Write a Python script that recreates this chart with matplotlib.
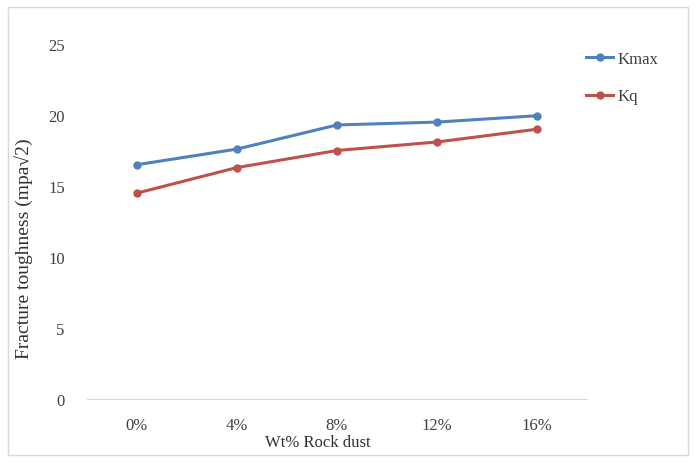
import matplotlib
matplotlib.use("Agg")
import matplotlib.pyplot as plt
from matplotlib.patches import Rectangle

categories = ["0%", "4%", "8%", "12%", "16%"]
kmax = [16.5, 17.6, 19.3, 19.5, 19.95]
kq = [14.5, 16.3, 17.5, 18.1, 19.0]
yticks = [0, 5, 10, 15, 20, 25]

plt.rcParams['font.family'] = ['Liberation Serif', 'DejaVu Serif']

fig = plt.figure(figsize=(6.96, 4.64), dpi=100)
W, H = 696, 464
ax = fig.add_axes([87 / W, 1 - 400 / H, 500 / W, 355 / H])

blue = "#4F81BD"
red = "#C0504D"
x = range(len(categories))
ax.plot(x, kmax, color=blue, lw=2.2, marker="o", ms=5, label="Kmax")
ax.plot(x, kq, color=red, lw=2.2, marker="o", ms=5, label="Kq")

ax.set_xlim(-0.5, len(categories) - 0.5)
ax.set_ylim(0, 25)
ax.set_yticks(yticks)
ax.set_xticks(list(x))
ax.set_xticklabels(categories)
for s in ["top", "right", "left"]:
    ax.spines[s].set_visible(False)
ax.spines["bottom"].set_color("#d9d9d9")
ax.tick_params(axis="both", length=0, labelsize=12, colors="#404040")
ax.tick_params(axis="x", pad=13)
ax.tick_params(axis="y", pad=16)

ax.set_xlabel("Wt% Rock dust", fontsize=12, color="#303030")
ax.xaxis.set_label_coords(0.462, -43 / 355, transform=ax.transAxes)
ax.xaxis.label.set_va("center")
ax.set_ylabel("Fracture toughness (mpa\u221a2)", fontsize=14, color="#303030")
ax.yaxis.set_label_coords(-63 / 500, (400 - 249) / 355, transform=ax.transAxes)
ax.yaxis.label.set_va("center")

leg = ax.legend(loc="upper left", bbox_to_anchor=(0.985, 1.0), frameon=False,
                fontsize=12, handlelength=1.6, handletextpad=0.3, labelspacing=1.3,
                borderaxespad=0)
for t in leg.get_texts():
    t.set_color("#404040")

fig.patches.append(Rectangle((8 / W, 8 / H), 680 / W, 448 / H, transform=fig.transFigure,
                             fill=False, edgecolor="#d9d9d9", lw=1))

fig.savefig("out.png", dpi=100)
